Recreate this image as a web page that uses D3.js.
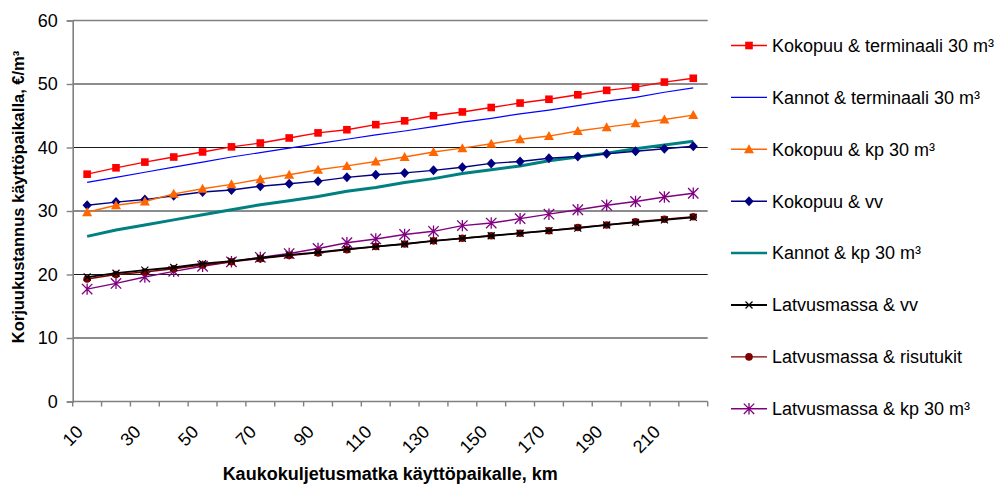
<!DOCTYPE html>
<html>
<head>
<meta charset="utf-8">
<script src="https://cdn.jsdelivr.net/npm/d3@7/dist/d3.min.js"></script>
<style>
  html, body { margin: 0; padding: 0; background: #fff; }
  svg { display: block; font-family: "Liberation Sans", Arial, sans-serif; }
</style>
</head>
<body>
<svg id="chart" width="997" height="485"></svg>
<script>
// Haulage distance categories (km)
const distances = [10, 20, 30, 40, 50, 60, 70, 80, 90, 100, 110, 120, 130, 140, 150, 160, 170, 180, 190, 200, 210, 220];
const yTicks = [0, 10, 20, 30, 40, 50, 60];

// Cost at the point of use, €/m³, one array per supply chain
const kokopuuTerminaali = [35.8, 36.8, 37.7, 38.5, 39.3, 40.1, 40.7, 41.5, 42.3, 42.8, 43.6, 44.2, 45.0, 45.6, 46.3, 47.0, 47.6, 48.3, 49.0, 49.5, 50.3, 50.9];
const kannotTerminaali  = [34.5, 35.3, 36.1, 36.9, 37.7, 38.5, 39.2, 39.9, 40.6, 41.3, 42.0, 42.6, 43.3, 44.0, 44.6, 45.3, 45.9, 46.6, 47.3, 47.9, 48.7, 49.4];
const kokopuuKp         = [29.8, 30.9, 31.5, 32.7, 33.5, 34.2, 35.0, 35.7, 36.5, 37.1, 37.8, 38.5, 39.3, 39.9, 40.6, 41.3, 41.8, 42.6, 43.2, 43.8, 44.4, 45.1];
const kokopuuVv         = [30.9, 31.4, 31.8, 32.4, 33.0, 33.3, 33.9, 34.3, 34.7, 35.3, 35.7, 36.0, 36.4, 36.9, 37.5, 37.8, 38.3, 38.6, 39.0, 39.4, 39.8, 40.2];
const kannotKp          = [26.0, 27.0, 27.8, 28.6, 29.4, 30.2, 31.0, 31.6, 32.3, 33.1, 33.7, 34.5, 35.1, 35.9, 36.5, 37.1, 37.9, 38.5, 39.1, 39.8, 40.4, 41.0];
const latvusVv          = [19.6, 20.2, 20.7, 21.1, 21.7, 22.1, 22.6, 23.1, 23.5, 24.0, 24.4, 24.8, 25.3, 25.7, 26.1, 26.5, 26.9, 27.3, 27.8, 28.2, 28.6, 29.0];
const latvusRisutukit   = [19.3, 20.0, 20.4, 20.9, 21.5, 22.0, 22.5, 23.0, 23.4, 23.9, 24.4, 24.8, 25.3, 25.7, 26.1, 26.5, 26.9, 27.4, 27.8, 28.3, 28.7, 29.1];
const latvusKp          = [17.7, 18.6, 19.6, 20.5, 21.3, 22.0, 22.7, 23.3, 24.1, 25.0, 25.6, 26.3, 26.8, 27.7, 28.1, 28.8, 29.5, 30.2, 30.9, 31.5, 32.2, 32.8];

const seriesNames = [
  "Kokopuu & terminaali 30 m³",
  "Kannot & terminaali 30 m³",
  "Kokopuu & kp 30 m³",
  "Kokopuu & vv",
  "Kannot & kp 30 m³",
  "Latvusmassa & vv",
  "Latvusmassa & risutukit",
  "Latvusmassa & kp 30 m³"
];

const series = [
  { name: seriesNames[0], values: kokopuuTerminaali, color: "#ff0000", width: 1.4, marker: "square" },
  { name: seriesNames[1], values: kannotTerminaali,  color: "#0000ff", width: 1.2, marker: null },
  { name: seriesNames[2], values: kokopuuKp,         color: "#ff6600", width: 1.4, marker: "triangle" },
  { name: seriesNames[3], values: kokopuuVv,         color: "#000080", width: 1.4, marker: "diamond" },
  { name: seriesNames[4], values: kannotKp,          color: "#008080", width: 3,   marker: null },
  { name: seriesNames[5], values: latvusVv,          color: "#000000", width: 1.8, marker: "x" },
  { name: seriesNames[6], values: latvusRisutukit,   color: "#800000", width: 1.4, marker: "circle" },
  { name: seriesNames[7], values: latvusKp,          color: "#800080", width: 1.4, marker: "star" }
];

const svg = d3.select("#chart");
const plot = { left: 72.7, right: 707.7, top: 20.5, bottom: 401.5 };

const x = d3.scaleBand().domain(distances).range([plot.left, plot.right]);
const y = d3.scaleLinear().domain([0, 60]).range([plot.bottom, plot.top]);

// Horizontal gridlines
svg.append("g")
  .selectAll("line")
  .data(yTicks.filter(v => v > 0))
  .join("line")
  .attr("x1", plot.left).attr("x2", plot.right)
  .attr("y1", d => y(d)).attr("y2", d => y(d))
  .attr("stroke", d => d === 60 ? "#808080" : "#1a1a1a")
  .attr("stroke-width", d => d === 60 ? 1.6 : 1);

// Y axis
const yAxis = svg.append("g")
  .attr("transform", `translate(${plot.left},0)`)
  .call(d3.axisLeft(y).tickValues(yTicks).tickSize(6).tickPadding(9).tickFormat(d3.format("d")));
yAxis.select(".domain").attr("stroke", "#808080").attr("stroke-width", 1.6);
yAxis.selectAll(".tick line").attr("stroke", "#808080").attr("stroke-width", 1.4);
yAxis.selectAll("text").attr("font-size", 18).attr("fill", "#000")
  .attr("font-family", "Liberation Sans, Arial, sans-serif");

// X axis line and boundary ticks
const xAxis = svg.append("g");
xAxis.append("line")
  .attr("x1", plot.left).attr("x2", plot.right)
  .attr("y1", plot.bottom).attr("y2", plot.bottom)
  .attr("stroke", "#808080").attr("stroke-width", 1.6);
const edges = distances.map(d => x(d)).concat([x(distances[distances.length - 1]) + x.bandwidth()]);
xAxis.selectAll("line.tk")
  .data(edges)
  .join("line")
  .attr("class", "tk")
  .attr("x1", d => d).attr("x2", d => d)
  .attr("y1", plot.bottom).attr("y2", plot.bottom + 5)
  .attr("stroke", "#808080").attr("stroke-width", 1.4);

// Rotated category labels (every second distance)
xAxis.selectAll("text")
  .data(distances.filter((d, i) => i % 2 === 0))
  .join("text")
  .attr("transform", d => `translate(${x(d) + x.bandwidth() / 2 - 3},${433}) rotate(-45)`)
  .attr("text-anchor", "end")
  .attr("font-size", 18)
  .attr("fill", "#000")
  .text(d => d);

// Marker shapes
function drawMarker(g, type, color, cx, cy) {
  if (type === "square") {
    g.append("rect").attr("x", cx - 3.8).attr("y", cy - 3.8).attr("width", 7.6).attr("height", 7.6).attr("fill", color);
  } else if (type === "triangle") {
    g.append("path").attr("d", `M${cx},${cy - 5} L${cx + 5},${cy + 4} L${cx - 5},${cy + 4} Z`).attr("fill", color);
  } else if (type === "diamond") {
    g.append("path").attr("d", `M${cx},${cy - 5} L${cx + 4.6},${cy} L${cx},${cy + 5} L${cx - 4.6},${cy} Z`).attr("fill", color);
  } else if (type === "circle") {
    g.append("circle").attr("cx", cx).attr("cy", cy).attr("r", 3.8).attr("fill", color);
  } else if (type === "x") {
    const r = 3.5;
    g.append("path").attr("d", `M${cx - r},${cy - r} L${cx + r},${cy + r} M${cx - r},${cy + r} L${cx + r},${cy - r}`)
      .attr("stroke", color).attr("stroke-width", 1.2).attr("fill", "none");
  } else if (type === "star") {
    const r = 5.2;
    g.append("path").attr("d",
      `M${cx - r},${cy - r} L${cx + r},${cy + r} M${cx - r},${cy + r} L${cx + r},${cy - r} M${cx},${cy - r - 0.5} L${cx},${cy + r + 0.5}`)
      .attr("stroke", color).attr("stroke-width", 1.3).attr("fill", "none");
  }
}

const line = d3.line()
  .x((d, i) => x(distances[i]) + x.bandwidth() / 2)
  .y(d => y(d));

// Draw from bottom of legend order upward so the first series sits on top
const marksLayer = svg.append("g");
series.slice().reverse().forEach(s => {
  const g = marksLayer.append("g");
  g.append("path")
    .attr("d", line(s.values))
    .attr("fill", "none")
    .attr("stroke", s.color)
    .attr("stroke-width", s.width)
    .attr("stroke-linejoin", "round");
  if (s.marker) {
    s.values.forEach((v, i) => drawMarker(g, s.marker, s.color, x(distances[i]) + x.bandwidth() / 2, y(v)));
  }
});

// Legend
const legend = svg.append("g");
series.forEach((s, i) => {
  const ly = 45.5 + i * 51.9;
  const g = legend.append("g");
  g.append("line")
    .attr("x1", 731).attr("x2", 767)
    .attr("y1", ly).attr("y2", ly)
    .attr("stroke", s.color)
    .attr("stroke-width", Math.min(s.width, 2.5));
  if (s.marker) drawMarker(g, s.marker, s.color, 749, ly);
  g.append("text")
    .attr("x", 772).attr("y", ly)
    .attr("dy", "0.35em")
    .attr("font-size", 18)
    .attr("fill", "#000")
    .text(s.name);
});

// Axis titles
svg.append("text")
  .attr("x", (plot.left + plot.right) / 2)
  .attr("y", 480)
  .attr("text-anchor", "middle")
  .attr("font-size", 18)
  .attr("font-weight", "bold")
  .text("Kaukokuljetusmatka käyttöpaikalle, km");

svg.append("text")
  .attr("transform", `translate(24,197) rotate(-90)`)
  .attr("text-anchor", "middle")
  .attr("font-size", 16.5)
  .attr("font-weight", "bold")
  .text("Korjuukustannus käyttöpaikalla, €/m³");
</script>
</body>
</html>
